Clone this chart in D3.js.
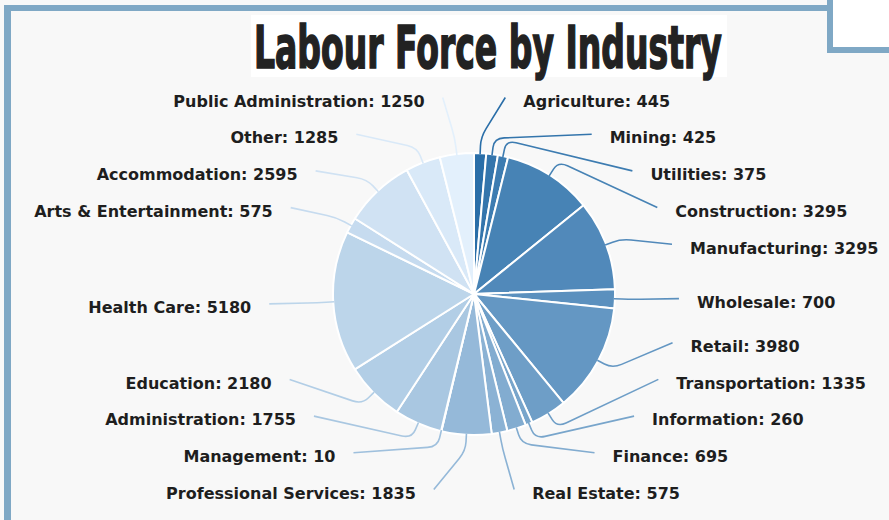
<!DOCTYPE html>
<html>
<head>
<meta charset="utf-8">
<script src="https://cdn.jsdelivr.net/npm/d3@7/dist/d3.min.js"></script>
<style>
  html, body { margin: 0; padding: 0; background: #f8f8f8; }
  svg { display: block; }
</style>
</head>
<body>
<svg id="chart" width="889" height="520"></svg>
<script>
const title = "Labour Force by Industry";
const categories = ["Agriculture","Mining","Utilities","Construction","Manufacturing","Wholesale","Retail","Transportation","Information","Finance","Real Estate","Professional Services","Management","Administration","Education","Health Care","Arts & Entertainment","Accommodation","Other","Public Administration"];
const values = [445,425,375,3295,3295,700,3980,1335,260,695,575,1835,10,1755,2180,5180,575,2595,1285,1250];
const colorRange = ["#2a6ea8", "#e3f0fc"];

const W = 889, H = 520;
const cx = 474, cy = 294, R = 141;
const svg = d3.select("#chart");

// background + frame
svg.append("rect").attr("width", W).attr("height", H).attr("fill", "#f8f8f8");
const frameColor = "#7fa8c5";
svg.append("rect").attr("x", 833).attr("y", 0).attr("width", 56).attr("height", 47).attr("fill", "#ffffff");
svg.append("rect").attr("x", 4).attr("y", 5).attr("width", 7).attr("height", H - 5).attr("fill", frameColor);
svg.append("rect").attr("x", 4).attr("y", 5).attr("width", 829).attr("height", 6).attr("fill", frameColor);
svg.append("rect").attr("x", 827).attr("y", 0).attr("width", 6).attr("height", 53).attr("fill", frameColor);
svg.append("rect").attr("x", 827).attr("y", 47).attr("width", 62).attr("height", 6).attr("fill", frameColor);

// title
svg.append("rect").attr("x", 251).attr("y", 15).attr("width", 476).attr("height", 62).attr("fill", "#ffffff");
const titleText = svg.append("text")
  .attr("x", 0).attr("y", 0)
  .attr("font-family", "'DejaVu Sans Condensed', 'DejaVu Sans', sans-serif")
  .attr("font-weight", "bold")
  .attr("font-size", 58)
  .attr("fill", "#222222")
  .attr("stroke", "#222222").attr("stroke-width", 1.6)
  .text(title);
const natural = titleText.node().getComputedTextLength();
titleText.attr("transform", `translate(254,68) scale(${468 / natural},1)`);

const data = categories.map((c, i) => ({ name: c, value: values[i], i }));
const color = d3.scaleLinear().domain([0, data.length - 1]).range(colorRange).interpolate(d3.interpolateRgb);
const pie = d3.pie().sort(null).value(d => d.value);
const arcs = pie(data);
const arc = d3.arc().innerRadius(0).outerRadius(R);

const g = svg.append("g").attr("transform", `translate(${cx},${cy})`);
g.selectAll("path.slice").data(arcs).join("path")
  .attr("class", "slice")
  .attr("d", arc)
  .attr("fill", d => color(d.data.i))
  .attr("stroke", "#ffffff").attr("stroke-width", 2).attr("stroke-linejoin", "round");

// label layout
const yMin = 101, yMax = 493, gap = 36.7, bL = 240;
const ax = 223, bx = 202, cyx = 298;
arcs.forEach(d => {
  d.mid = (d.startAngle + d.endAngle) / 2;
  d.side = Math.sin(d.mid) >= 0 ? 1 : -1;
  d.ly = Math.max(yMin, Math.min(yMax, cy - bL * Math.cos(d.mid)));
});
[1, -1].forEach(side => {
  const list = arcs.filter(d => d.side === side);
  if (side === -1) list.reverse();
  for (let k = 1; k < list.length; k++) list[k].ly = Math.max(list[k].ly, list[k - 1].ly + gap);
  list[list.length - 1].ly = Math.min(list[list.length - 1].ly, yMax);
  for (let k = list.length - 2; k >= 0; k--) list[k].ly = Math.min(list[k].ly, list[k + 1].ly - gap);
});
arcs.forEach(d => {
  const t = Math.min(1, Math.abs(d.ly - cyx) / bx);
  d.lx = cx + d.side * ax * Math.sqrt(1 - t * t);
});

// connectors
function pt(a, r) { return [cx + r * Math.sin(a), cy - r * Math.cos(a)]; }
svg.append("g").selectAll("path.conn").data(arcs).join("path")
  .attr("class", "conn")
  .attr("fill", "none")
  .attr("stroke", d => color(d.data.i))
  .attr("stroke-width", 1.6)
  .attr("d", d => {
    const p0 = pt(d.mid, R - 1);
    const pA = pt(d.mid, R + 7);
    const pB = pt(d.mid, R + 16);
    const end = [d.lx - d.side * 18, d.ly - 3.5];
    const dx = end[0] - pB[0], dy = end[1] - pB[1];
    const len = Math.hypot(dx, dy) || 1;
    const s = Math.min(10, len / 2);
    const pC = [pB[0] + dx / len * s, pB[1] + dy / len * s];
    return `M${p0[0]},${p0[1]}L${pA[0]},${pA[1]}Q${pB[0]},${pB[1]} ${pC[0]},${pC[1]}L${end[0]},${end[1]}`;
  });

// labels
svg.append("g").selectAll("text.lbl").data(arcs).join("text")
  .attr("class", "lbl")
  .attr("x", d => d.lx)
  .attr("y", d => d.ly)
  .attr("dy", "0.36em")
  .attr("text-anchor", d => d.side === 1 ? "start" : "end")
  .attr("font-family", "'DejaVu Sans', sans-serif")
  .attr("font-weight", "bold")
  .attr("font-size", 16)
  .attr("fill", "#1e1e1e")
  .text(d => `${d.data.name}: ${d.data.value}`);
</script>
</body>
</html>
